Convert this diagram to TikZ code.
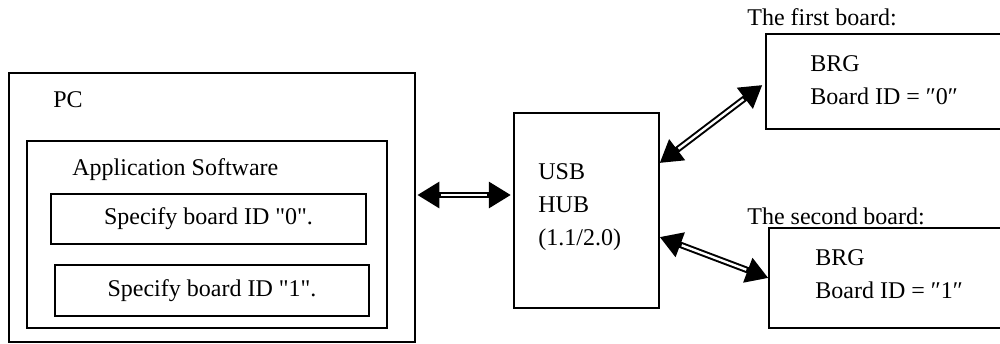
\documentclass[tikz,border=0pt]{standalone}
\usepackage{fontspec}
\setmainfont{Liberation Serif}
\usepackage{tikz}
\usetikzlibrary{positioning,arrows.meta,calc}
\tikzset{
  frame/.style={rectangle,draw=black,line width=0.65pt,inner sep=0pt},
  label/.style={anchor=west,inner sep=0pt,font=\fontsize{12}{14}\selectfont},
  stack/.style={anchor=west,inner sep=0pt,align=left,font=\fontsize{12}{16.5}\selectfont},
  link/.style={line width=3.2pt,{Triangle[length=11pt,width=12.5pt,fill=black]}-{Triangle[length=11pt,width=12.5pt,fill=black]}},
  gap/.style={draw=white,line width=1.2pt,shorten <=11.8pt,shorten >=11.8pt}
}
\begin{document}
\begin{tikzpicture}[x=0.5pt,y=-0.5pt,font=\fontsize{12}{14}\selectfont]
  \useasboundingbox (0,0) rectangle (1000,343);
  % PC side
  \node[frame,minimum width=203pt,minimum height=134.5pt] (pc) at (212,207.5) {};
  \node[label] (pctext) at (53,100) {PC};
  \node[frame,minimum width=180pt,minimum height=93.5pt] (app) at (207,234.5) {};
  \node[label] (apptext) at (72,170) {Application Software};
  \node[frame,minimum width=157.5pt,minimum height=25pt] (spec0) at (208.5,219) {Specify board ID \textquotedbl0\textquotedbl.};
  \node[frame,minimum width=157pt,minimum height=25.5pt] (spec1) at (212,290.5) {Specify board ID \textquotedbl1\textquotedbl.};
  % hub
  \node[frame,minimum width=72.5pt,minimum height=97.5pt] (hub) at (586.5,210.5) {};
  \node[stack] (hubtext) at (538,207) {USB\\HUB\\(1.1/2.0)};
  % boards
  \node[label] (cap0) at (747,17) {The first board:};
  \node[frame,minimum width=127pt,minimum height=47.5pt] (brd0) at (893,81.5) {};
  \node[stack] (brd0text) at (810,80) {BRG\\Board ID = ″0″};
  \node[label] (cap1) at (747,216) {The second board:};
  \node[frame,minimum width=125.5pt,minimum height=50pt] (brd1) at (894.5,278) {};
  \node[stack] (brd1text) at (815,274) {BRG\\Board ID = ″1″};
  % connectors (black body, white core)
  \coordinate (pcport) at ([xshift=0.8pt,yshift=6.25pt]pc.east);
  \coordinate (hubin) at ([xshift=-1.2pt,yshift=7.75pt]hub.west);
  \coordinate (hubup) at ([yshift=23.75pt]hub.east);
  \coordinate (hubdn) at ([yshift=-13.25pt]hub.east);
  \coordinate (brd0in) at ([xshift=-1.5pt,yshift=-1.75pt]brd0.west);
  \coordinate (brd1in) at (brd1.west);
  \draw[link] (pcport) -- (hubin);
  \draw[link] (hubup) -- (brd0in);
  \draw[link] (hubdn) -- (brd1in);
  \draw[gap] (pcport) -- (hubin);
  \draw[gap] (hubup) -- (brd0in);
  \draw[gap] (hubdn) -- (brd1in);
\end{tikzpicture}
\end{document}
